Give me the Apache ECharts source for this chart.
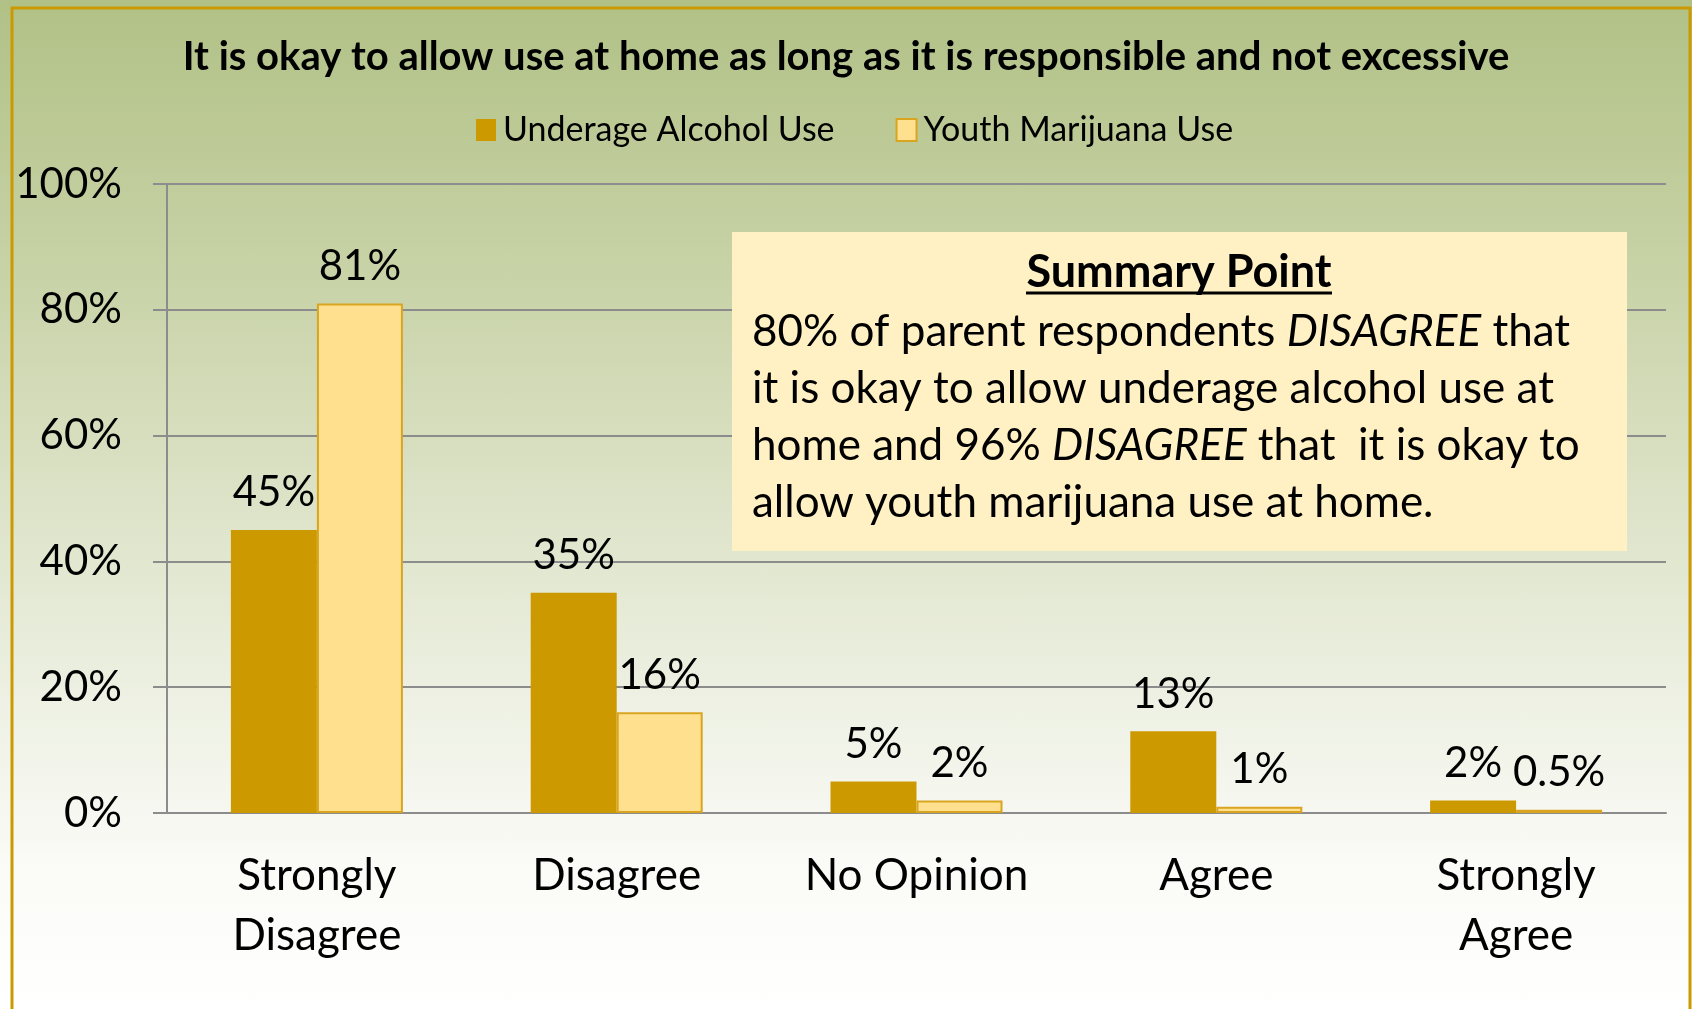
<!DOCTYPE html>
<html lang="en">
<head>
    <meta charset="UTF-8">
    <title>use_at_home</title>
    <script src="https://cdn.jsdelivr.net/npm/echarts@6/dist/echarts.min.js"></script>
    <style>
        html,body{margin:0;padding:0}
        #main{width:1692px;height:1009px;background:linear-gradient(to bottom,#b1c186 0%,#c6d1a4 25%,#dde3c8 50%,#eef1e4 70%,#fafaf6 85%,#ffffff 100%)}
    </style>
</head>
<body>
    <div id="main"></div>
    <script>
        var categories=['Strongly\nDisagree','Disagree','No Opinion','Agree','Strongly\nAgree'];
        var alcohol=[45,35,5,13,2];
        var marijuana=[81,16,2,1,0.5];
        var yTicks=[0,20,40,60,80,100];

        var fontName='Lato';
        var mychart=echarts.init(document.getElementById('main'));
        var option={
            backgroundColor:'transparent',
            title:{
                text:'It is okay to allow use at home as long as it is responsible and not excessive',
                left:'center',
                top:32,
                textStyle:{fontFamily:fontName,fontWeight:'bold',fontSize:40,color:'#000'}
            },
            legend:{
                left:471,
                top:108,
                icon:'rect',
                itemWidth:20,
                itemHeight:22,
                itemGap:61,
                textStyle:{fontFamily:fontName,fontSize:34,color:'#000',padding:[0,0,0,2]}
            },
            grid:{left:167,right:26,top:184,bottom:196},
            xAxis:{
                type:'category',
                data:categories,
                axisLine:{lineStyle:{color:'#8c8c8c',width:2}},
                axisTick:{length:15,lineStyle:{color:'#8c8c8c',width:2}},
                axisLabel:{fontFamily:fontName,fontSize:44,color:'#000',margin:33,lineHeight:60}
            },
            yAxis:{
                type:'value',
                min:yTicks[0],
                max:yTicks[yTicks.length-1],
                interval:20,
                axisLine:{show:true,lineStyle:{color:'#8c8c8c',width:2}},
                axisTick:{show:true,length:14,lineStyle:{color:'#8c8c8c',width:2}},
                splitLine:{lineStyle:{color:'#8c8c8c',width:2}},
                axisLabel:{formatter:'{value}%',fontFamily:fontName,fontSize:42,color:'#000',margin:45}
            },
            series:[
                {
                    name:'Underage Alcohol Use',
                    type:'bar',
                    data:alcohol,
                    barWidth:86,
                    barGap:'0%',
                    itemStyle:{color:'#cc9900'},
                    label:{show:true,position:'top',distance:16,formatter:'{c}%',fontFamily:fontName,fontSize:42,color:'#000'}
                },
                {
                    name:'Youth Marijuana Use',
                    type:'bar',
                    data:marijuana,
                    barWidth:86,
                    itemStyle:{color:'#fee08f',borderColor:'#d9a520',borderWidth:2},
                    label:{show:true,position:'top',distance:16,formatter:'{c}%',fontFamily:fontName,fontSize:42,color:'#000'}
                }
            ],
            graphic:[
                {
                    type:'rect',
                    z:100,
                    silent:true,
                    shape:{x:12,y:8,width:1678,height:1010},
                    style:{fill:'none',stroke:'#cc9900',lineWidth:3}
                },
                {
                    type:'rect',
                    z:50,
                    shape:{x:732,y:232,width:895,height:319},
                    style:{fill:'#fff1c4'}
                },
                {
                    type:'text',
                    z:51,
                    x:1179,
                    y:272,
                    style:{text:'Summary Point',fontFamily:fontName,fontWeight:'bold',fontSize:45,fill:'#000',align:'center',verticalAlign:'middle'}
                },
                {
                    type:'line',
                    z:51,
                    shape:{x1:1026,y1:293,x2:1332,y2:293},
                    style:{stroke:'#000',lineWidth:3}
                },
                {
                    type:'text',
                    z:51,
                    x:752,
                    y:303,
                    style:{
                        text:'80% of parent respondents {i|DISAGREE} that\nit is okay to allow underage alcohol use at\nhome and 96% {i|DISAGREE} that  it is okay to\nallow youth marijuana use at home.',
                        fontFamily:fontName,fontSize:44,lineHeight:57,fill:'#000',verticalAlign:'top',
                        rich:{i:{fontFamily:fontName,fontSize:44,lineHeight:57,fontStyle:'italic',fill:'#000'}}
                    }
                }
            ]
        };
        mychart.setOption(option);
    </script>
</body>
</html>
